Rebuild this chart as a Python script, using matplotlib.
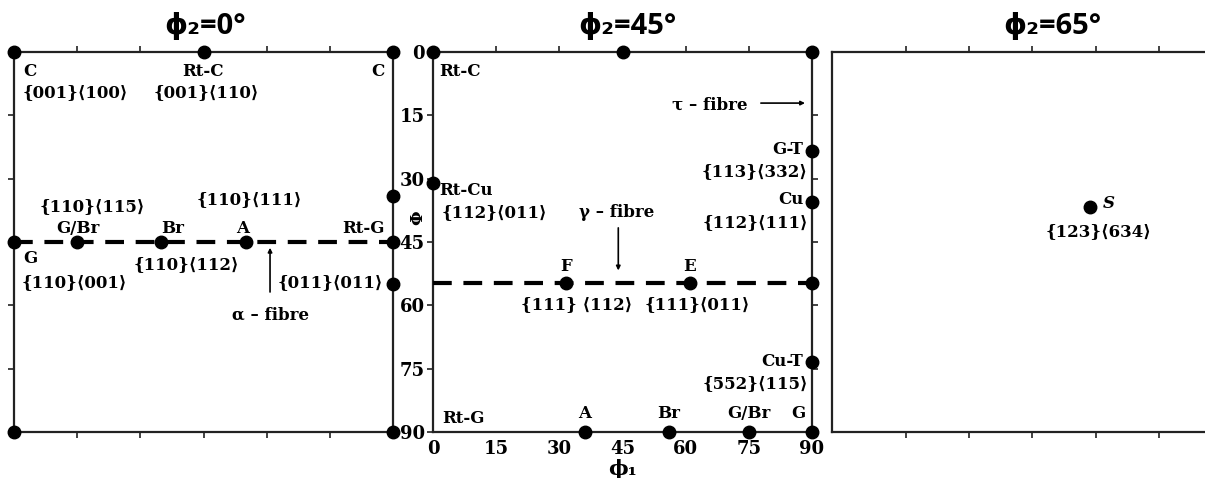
import numpy as np
import matplotlib.pyplot as plt
from matplotlib import rcParams

rcParams['font.family'] = ['DejaVu Serif', 'DejaVu Sans']
rcParams['font.weight'] = 'bold'

# phi2 = 0 section: (phi1, Phi) of the ideal orientations
p0_phi1 = [0, 45, 90, 0, 15, 35, 55, 90, 90, 90, 0, 90]
p0_Phi = [0, 0, 0, 45, 45, 45, 45, 45, 34, 55, 90, 90]
alpha_fibre_Phi = 45

# phi2 = 45 section
p45_phi1 = [0, 45, 90, 0, 90, 90, 31.5, 61, 90, 90, 36, 56, 75, 90]
p45_Phi = [0, 0, 0, 31, 23.5, 35.5, 54.7, 54.7, 54.7, 73.5, 90, 90, 90, 90]
gamma_fibre_Phi = 54.7

# phi2 = 65 section
p65_phi1 = [58.7]
p65_Phi = [36.7]

ticks = [0, 15, 30, 45, 60, 75, 90]
inner_ticks = [15, 30, 45, 60, 75]

W, H = 1205, 478
fig = plt.figure(figsize=(W / 100, H / 100), dpi=100)


def ax_at(x0, x1):
    return fig.add_axes([x0 / W, 1 - 432 / H, (x1 - x0) / W, 380 / H])


def frame(ax, xlim=(0, 90)):
    ax.set_xlim(*xlim)
    ax.set_ylim(90, 0)
    for s in ax.spines.values():
        s.set_linewidth(1.6)
        s.set_color('#222222')
    ax.tick_params(direction='out', length=4, width=1.2, color='#222222')


def dots(ax, x, y):
    ax.plot(x, y, 'o', color='black', ms=9, clip_on=False, zorder=5)


def fibre(ax, Phi):
    ax.plot([0, 90], [Phi, Phi], '--', color='black', lw=3, dashes=(4.5, 2.8),
            clip_on=False, zorder=4)


def lab(ax, s, x, y, ha='center', **kw):
    ax.text(x, y, s, ha=ha, va='center', fontsize=12, fontweight='bold', **kw)


def arrow(ax, x0, y0, x1, y1):
    ax.annotate('', xy=(x1, y1), xytext=(x0, y0),
                arrowprops=dict(arrowstyle='-|>', color='black', lw=1.2,
                                mutation_scale=6))


def title(s, xc):
    fig.text(xc / W, 1 - 27 / H, s, ha='center', va='center', fontsize=21,
             fontweight='bold', family=['Open Sans', 'DejaVu Sans'])


# ---------- phi2 = 0 ----------
a0 = ax_at(14, 393)
frame(a0)
a0.set_xticks(inner_ticks)
a0.set_yticks(inner_ticks)
a0.tick_params(top=True, bottom=True, left=True, right=False,
               labelbottom=False, labelleft=False)
fibre(a0, alpha_fibre_Phi)
dots(a0, p0_phi1, p0_Phi)
lab(a0, 'C', 2.1, 4.7, ha='left')
lab(a0, '{001}⟨100⟩', 2.1, 9.7, ha='left')
lab(a0, 'Rt-C', 44.9, 4.7)
lab(a0, '{001}⟨110⟩', 45.8, 9.7)
lab(a0, 'C', 88, 4.7, ha='right')
lab(a0, '{110}⟨115⟩', 18.5, 36.5)
lab(a0, 'G/Br', 15.2, 41.7)
lab(a0, 'Br', 37.8, 41.7)
lab(a0, '{110}⟨111⟩', 55.8, 35)
lab(a0, 'A', 54.4, 41.7)
lab(a0, 'Rt-G', 88, 41.7, ha='right')
lab(a0, 'G', 2.1, 49, ha='left')
lab(a0, '{110}⟨001⟩', 1.7, 54.5, ha='left')
lab(a0, '{110}⟨112⟩', 41, 50.4)
lab(a0, '{011}⟨011⟩', 87.6, 54.5, ha='right')
arrow(a0, 60.8, 57.5, 60.8, 45.7)
lab(a0, 'α – fibre', 60.8, 62.3)
title('ϕ₂=0°', 205)

# ---------- phi2 = 45 ----------
a1 = ax_at(433, 812)
frame(a1)
a1.set_xticks(ticks)
a1.set_yticks(ticks)
a1.tick_params(top=True, bottom=False, left=True, right=True,
               labelsize=13, pad=2)
a1.tick_params(axis='y', right=True, labelright=False)
a1.set_xlabel('ϕ₁', fontsize=15, fontweight='bold', va='top')
a1.xaxis.set_label_coords(0.5, -0.072)
a1.set_ylabel('Φ', fontsize=12, fontweight='bold', va='center')
a1.yaxis.set_label_coords(-0.040, 0.563)
for t in a1.get_xticklabels() + a1.get_yticklabels():
    t.set_fontweight('bold')
fibre(a1, gamma_fibre_Phi)
dots(a1, p45_phi1, p45_Phi)
lab(a1, 'Rt-C', 1.4, 4.5, ha='left')
lab(a1, 'τ – fibre', 74.6, 12.6, ha='right')
arrow(a1, 77.2, 12.1, 89, 12.1)
lab(a1, 'G-T', 87.9, 23.2, ha='right')
lab(a1, '{113}⟨332⟩', 89, 28.2, ha='right')
lab(a1, 'Rt-Cu', 1.4, 32.7, ha='left')
lab(a1, '{112}⟨011⟩', 2.1, 38.1, ha='left')
lab(a1, 'γ – fibre', 43.7, 38.1)
arrow(a1, 44, 41, 44, 52.4)
lab(a1, 'Cu', 87.9, 35, ha='right')
lab(a1, '{112}⟨111⟩', 89, 40.5, ha='right')
lab(a1, 'F', 31.6, 50.9)
lab(a1, 'E', 61, 50.9)
lab(a1, '{111} ⟨112⟩', 34.2, 59.9)
lab(a1, '{111}⟨011⟩', 62.8, 59.9)
lab(a1, 'Cu-T', 87.9, 73.4, ha='right')
lab(a1, '{552}⟨115⟩', 89, 78.6, ha='right')
lab(a1, 'Rt-G', 2.1, 86.7, ha='left')
lab(a1, 'A', 35.9, 85.5)
lab(a1, 'Br', 56, 85.5)
lab(a1, 'G/Br', 75, 85.5)
lab(a1, 'G', 86.7, 85.5)
title('ϕ₂=45°', 627)

# ---------- phi2 = 65 ----------
a2 = ax_at(832, 1272)
frame(a2, xlim=(-2.6, 101.9))
a2.set_xticks(inner_ticks)
a2.set_yticks([])
a2.tick_params(top=True, bottom=True, labelbottom=False)
dots(a2, p65_phi1, p65_Phi)
a2.text(61.6, 35.8, 'S', ha='left', va='center', fontsize=12,
        fontweight='bold', style='italic')
lab(a2, '{123}⟨634⟩', 60.6, 42.6)
title('ϕ₂=65°', 1052)

fig.savefig('out.png', dpi=100)
